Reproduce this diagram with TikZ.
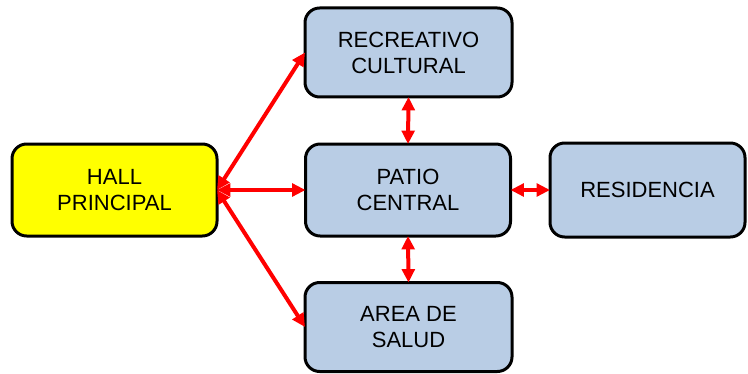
\documentclass[tikz,border=0pt]{standalone}
\usepackage{fontspec}
\setmainfont{Liberation Sans}
\usetikzlibrary{arrows.meta}

\definecolor{boxblue}{RGB}{185,205,229}
\definecolor{boxyellow}{RGB}{255,255,0}
\definecolor{linkred}{RGB}{255,0,0}

\tikzset{every picture/.style={line width=0.75pt}}
\tikzset{
  area/.style={draw=black, line width=2.25pt, rounded corners=11pt, fill=boxblue,
    align=center, inner sep=0pt, outer sep=0pt,
    font=\fontsize{16.5}{19.5}\selectfont},
  link/.style={draw=linkred, line width=3pt,
    {Triangle[length=10pt,width=9.5pt]}-{Triangle[length=10pt,width=9.5pt]}}
}

\begin{document}
\begin{tikzpicture}[x=0.75pt,y=0.75pt,yscale=-1,xscale=1]
%set diagram left start at 0, and has height of 374
\useasboundingbox (0,0) rectangle (748,374);

%Rounded Rect: hall
\node [area, fill=boxyellow, minimum width=153.75pt, minimum height=69pt] (hall) at (114.5,190) {HALL\\PRINCIPAL};
%Rounded Rect: recreativo
\node [area, minimum width=155.25pt, minimum height=66.75pt] (recreativo) at (408.5,52.5) {RECREATIVO\\CULTURAL};
%Rounded Rect: patio
\node [area, minimum width=153.75pt, minimum height=69pt] (patio) at (408,190) {PATIO\\CENTRAL};
%Rounded Rect: residencia
\node [area, minimum width=146.25pt, minimum height=70.5pt] (residencia) at (647.5,190) {RESIDENCIA};
%Rounded Rect: salud
\node [area, minimum width=155.25pt, minimum height=66.75pt] (salud) at (408.5,327) {AREA DE\\SALUD};

%Straight Lines
\draw [link] (hall.east) -- (recreativo.west);
\draw [link] (hall.east) -- (patio.west);
\draw [link] (hall.east) -- (salud.west);
\draw [link] (recreativo.south) -- (patio.north);
\draw [link] (patio.south) -- (salud.north);
\draw [link] (patio.east) -- (residencia.west);

\end{tikzpicture}
\end{document}
